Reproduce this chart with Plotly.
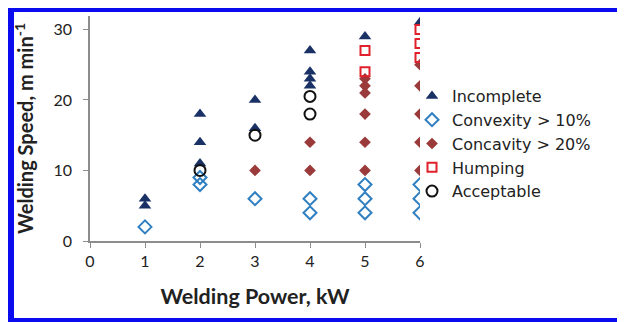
import plotly.graph_objects as go

# ---- data ----
inc_x = [1, 1, 2, 2, 2, 3, 3, 4, 4, 4, 4, 5, 6]
inc_y = [6, 5, 18, 14, 11, 20, 16, 27, 24, 23, 22, 29, 31]

cvx_x = [1, 2, 2, 3, 4, 4, 5, 5, 5, 6, 6, 6]
cvx_y = [2, 9, 8, 6, 6, 4, 8, 6, 4, 8, 6, 4]

ccv_x = [3, 4, 4, 5, 5, 5, 5, 5, 5, 6, 6, 6, 6, 6]
ccv_y = [10, 14, 10, 23, 22, 21, 18, 14, 10, 25, 22, 18, 14, 10]

hum_x = [5, 5, 6, 6, 6]
hum_y = [27, 24, 30, 28, 26]

acc_x = [2, 3, 4, 4]
acc_y = [10, 15, 20.5, 18]

x_ticks = [0, 1, 2, 3, 4, 5, 6]
y_ticks = [0, 10, 20, 30]

FONT = "Lato, 'Open Sans', sans-serif"
TXT = "#222222"

fig = go.Figure()
fig.add_trace(go.Scatter(x=inc_x, y=inc_y, mode="markers", name="Incomplete",
                         marker=dict(symbol="triangle-up", size=11, color="#1a3166")))
fig.add_trace(go.Scatter(x=cvx_x, y=cvx_y, mode="markers", name="Convexity > 10%",
                         marker=dict(symbol="diamond-open", size=10, color="#2f7fc1",
                                     line=dict(width=2, color="#2f7fc1"))))
fig.add_trace(go.Scatter(x=ccv_x, y=ccv_y, mode="markers", name="Concavity > 20%",
                         marker=dict(symbol="diamond", size=9, color="#9a3a3a")))
fig.add_trace(go.Scatter(x=hum_x, y=hum_y, mode="markers", name="Humping",
                         marker=dict(symbol="square-open", size=9, color="#e0202a",
                                     line=dict(width=2, color="#e0202a"))))
fig.add_trace(go.Scatter(x=acc_x, y=acc_y, mode="markers", name="Acceptable",
                         marker=dict(symbol="circle-open", size=11, color="#111111",
                                     line=dict(width=2, color="#111111"))))

# figure is drawn 8px in from the page edge, so sizes are in figure pixels
FW, FH = 617, 314
L, R, T, B = 82, 412, 8, 233
W, H = R - L, B - T
def px(x):
    return (x - L) / W
def py(y):
    return (B - y) / H

blue = "#0b0bf0"
shapes = [
    dict(type="rect", xref="paper", yref="paper", x0=px(0), x1=px(6), y0=py(FH), y1=py(0),
         fillcolor=blue, line=dict(width=0), layer="above"),
    dict(type="rect", xref="paper", yref="paper", x0=px(0), x1=px(FW), y0=py(4), y1=py(0),
         fillcolor=blue, line=dict(width=0), layer="above"),
    dict(type="rect", xref="paper", yref="paper", x0=px(0), x1=px(FW), y0=py(FH), y1=py(FH - 4),
         fillcolor=blue, line=dict(width=0), layer="above"),
    dict(type="rect", xref="paper", yref="paper", x0=px(FW - 2), x1=px(FW - 1), y0=py(FH - 4), y1=py(4),
         fillcolor="#9a9af5", line=dict(width=0), layer="above"),
]

fig.update_layout(
    width=FW, height=FH,
    margin=dict(l=L, r=FW - R, t=T, b=FH - B),
    paper_bgcolor="white", plot_bgcolor="white",
    font=dict(family=FONT, size=16, color=TXT),
    showlegend=True,
    legend=dict(x=px(404), y=py(71), xanchor="left", yanchor="top",
                font=dict(family="'DejaVu Sans', sans-serif", size=16, color=TXT), tracegroupgap=0,
                itemsizing="trace", bgcolor="rgba(0,0,0,0)"),
    shapes=shapes,
    xaxis=dict(range=[0, 6], tickvals=x_ticks, showgrid=False, zeroline=False,
               showline=True, linecolor="#8c8c8c", linewidth=1.5,
               ticks="outside", ticklen=5, tickcolor="#8c8c8c",
               tickfont=dict(size=16, color=TXT),
               title=dict(text="<b>Welding Power, kW</b>", font=dict(size=21.5, color=TXT), standoff=20)),
    yaxis=dict(range=[0, 31.9], tickvals=y_ticks, showgrid=False, zeroline=False,
               showline=True, linecolor="#8c8c8c", linewidth=1.5,
               ticks="outside", ticklen=5, tickcolor="#8c8c8c",
               ticklabelstandoff=8,
               tickfont=dict(size=16, color=TXT),
               title=dict(text="<b>Welding Speed, m min<sup>-1</sup></b>", font=dict(size=20, color=TXT), standoff=14)),
)

fig.write_html("out.html")
